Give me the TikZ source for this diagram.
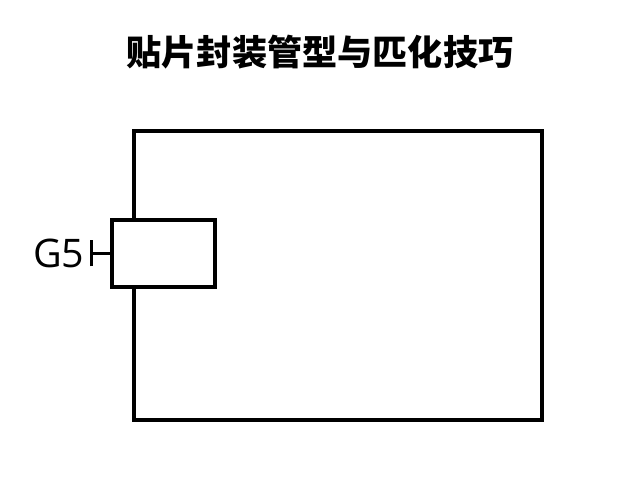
\documentclass[tikz,border=0pt]{standalone}
\usepackage{fontspec}
\setsansfont{Open Sans}
\newfontfamily\cjk{Noto Sans CJK SC}
\usetikzlibrary{positioning,arrows.meta}

\begin{document}
\begin{tikzpicture}[x=0.025cm,y=0.025cm,node distance=0.1cm,line width=2.4pt]
      \tikzset{outline/.style={draw,rectangle,inner sep=0pt}}
      \useasboundingbox (0,0) rectangle (640,480);

      \node[font=\cjk\bfseries\fontsize{25}{30}\selectfont] (title) at (320,428) {贴片封装管型与匹化技巧};
      \node[outline,minimum width=10.2cm,minimum height=7.225cm] (pkg) at (338,204.5) {};
      \node[outline,fill=white,minimum width=2.575cm,minimum height=1.675cm] (pin) at (163.5,226.5) {};
      \coordinate (lead) at (90,226.5);
      \node[font=\sffamily\fontsize{28}{32}\selectfont,inner sep=0pt] (g5) [left = 0.1cm of lead] {G5};

      \draw[{Bar[width=0.65cm]}-] (lead) -- (pin.west);
    \end{tikzpicture}
\end{document}
